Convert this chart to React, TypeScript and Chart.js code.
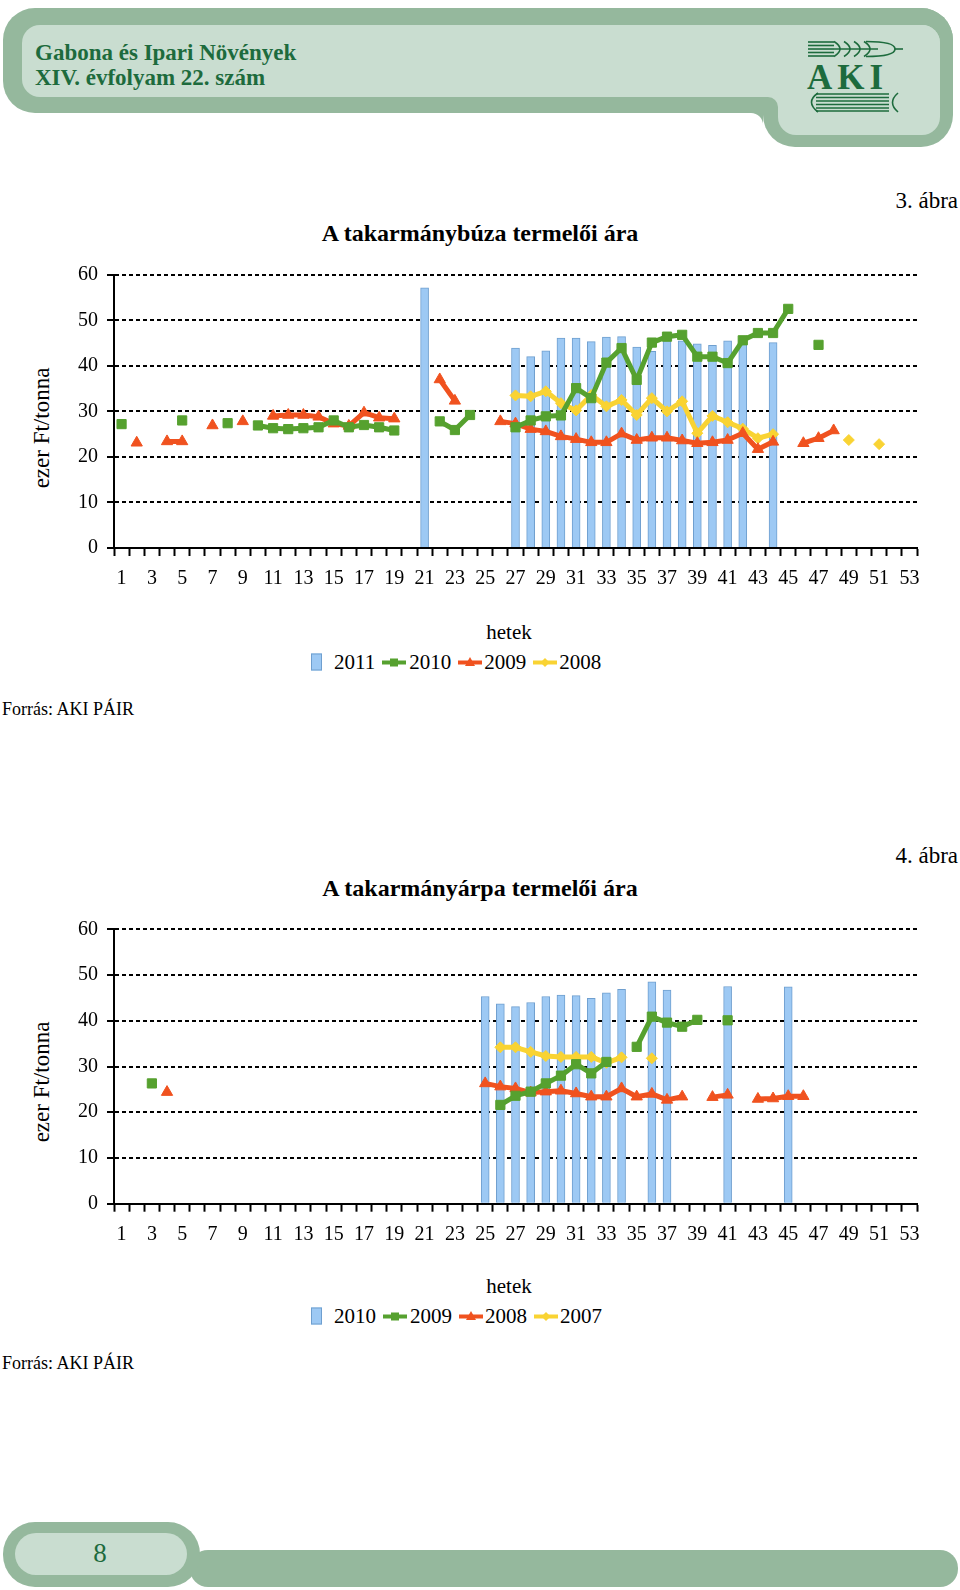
import React, { useEffect, useRef } from 'react';
import { Chart, registerables } from 'chart.js';

Chart.register(...registerables);

// ---------- data ----------
const weekLabels = [
  '1', '2', '3', '4', '5', '6', '7', '8', '9', '10',
  '11', '12', '13', '14', '15', '16', '17', '18', '19', '20',
  '21', '22', '23', '24', '25', '26', '27', '28', '29', '30',
  '31', '32', '33', '34', '35', '36', '37', '38', '39', '40',
  '41', '42', '43', '44', '45', '46', '47', '48', '49', '50',
  '51', '52', '53',
];

// Chart 3: feed wheat (takarmánybúza), thousand Ft / tonne, weeks 1..53
const wheat2011 = [
  null, null, null, null, null, null, null, null, null, null,
  null, null, null, null, null, null, null, null, null, null,
  57.1, null, null, null, null, null, 43.9, 42.0, 43.3, 46.1,
  46.1, 45.3, 46.3, 46.4, 44.1, 43.2, 45.5, 45.5, 44.8, 44.5,
  45.5, 46.0, null, 45.1, null, null, null, null, null, null,
  null, null, null,
];
const wheat2010 = [
  27.2, null, null, null, 28.0, null, null, 27.4, null, 26.9,
  26.3, 26.1, 26.3, 26.5, 28.0, 26.5, 27.0, 26.5, 25.8, null,
  null, 27.8, 25.9, 29.2, null, null, 26.5, 28.0, 28.9, 29.1,
  35.1, 32.9, 40.7, 43.9, 36.9, 45.1, 46.4, 46.8, 42.0, 42.0,
  40.6, 45.6, 47.2, 47.2, 52.5, null, 44.6, null, null, null,
  null, null, null,
];
const wheat2009 = [
  null, 23.1, null, 23.4, 23.4, null, 26.9, null, 27.8, null,
  29.0, 29.2, 29.2, 28.8, 27.3, 26.8, 29.7, 28.6, 28.4, null,
  null, 37.0, 32.3, null, null, 27.8, 27.3, 26.1, 25.6, 24.5,
  23.9, 23.2, 23.2, 25.1, 23.7, 24.2, 24.2, 23.6, 23.0, 23.2,
  23.7, 25.2, 21.7, 23.3, null, 23.0, 24.1, 25.8, null, null,
  null, null, null,
];
const wheat2008 = [
  null, null, null, null, null, null, null, null, null, null,
  null, null, null, null, null, null, null, null, null, null,
  null, null, null, null, null, null, 33.5, 33.3, 34.4, 31.8,
  30.2, 33.6, 31.1, 32.5, 29.2, 32.9, 30.0, 32.2, 25.2, 29.0,
  27.6, 26.2, 24.1, 25.0, null, null, null, null, 23.7, null,
  22.8, null, null,
];

// Chart 4: feed barley (takarmányárpa), thousand Ft / tonne, weeks 1..53
const barley2010 = [
  null, null, null, null, null, null, null, null, null, null,
  null, null, null, null, null, null, null, null, null, null,
  null, null, null, null, 45.3, 43.7, 43.1, 44.0, 45.3, 45.6,
  45.5, 44.9, 46.1, 46.9, null, 48.5, 46.7, null, null, null,
  47.5, null, null, null, 47.4, null, null, null, null, null,
  null, null, null,
];
const barley2009 = [
  null, null, 26.3, null, null, null, null, null, null, null,
  null, null, null, null, null, null, null, null, null, null,
  null, null, null, null, null, 21.6, 23.6, 24.5, 26.3, 28.0,
  30.5, 28.5, 31.0, null, 34.3, 40.9, 39.6, 38.7, 40.2, null,
  40.1, null, null, null, null, null, null, null, null, null,
  null, null, null,
];
const barley2008 = [
  null, null, null, 24.4, null, null, null, null, null, null,
  null, null, null, null, null, null, null, null, null, null,
  null, null, null, null, 26.3, 25.6, 25.2, 24.3, 24.5, 24.7,
  24.1, 23.4, 23.4, 25.2, 23.4, 24.0, 22.7, 23.4, null, 23.3,
  23.8, null, 22.9, 23.0, 23.5, 23.5, null, null, null, null,
  null, null, null,
];
const barley2007 = [
  null, null, null, null, null, null, null, null, null, null,
  null, null, null, null, null, null, null, null, null, null,
  null, null, null, null, null, 34.2, 34.2, 33.2, 32.3, 32.1,
  32.1, 32.1, 30.8, 32.0, null, 31.8, null, null, null, null,
  null, null, null, null, null, null, null, null, null, null,
  null, null, null,
];

const wheatYears = ['2011', '2010', '2009', '2008'];
const barleyYears = ['2010', '2009', '2008', '2007'];
const yTicks = { min: 0, max: 60, step: 10 };

// ---------- styles ----------
const BLUE = '#9dc9f4';
const BLUE_EDGE = '#6f9fcf';
const GREEN = '#56a12f';
const RED = '#f0521f';
const YELLOW = '#f9d333';
const INK = '#1d6b3d';
const OUTER = '#95b89d';
const INNER = '#c9ddd0';
const FONT = "'Liberation Serif', 'Times New Roman', serif";
const CANVAS_H = 345;

Chart.defaults.font.family = FONT;
Chart.defaults.color = '#000';

type Series = (number | null)[];

function WeeklyChart(props: {
  top: number; plotTop: number; plotBottom: number;
  bars: Series; green: Series; red: Series; yellow: Series; names: string[];
}) {
  const { top, plotTop, plotBottom, bars, green, red, yellow, names } = props;
  const ref = useRef<HTMLCanvasElement>(null);
  useEffect(() => {
    if (!ref.current) return;
    const lineDs = (label: string, data: Series, color: string, pointStyle: any, radius: number, order: number) => ({
      type: 'line' as const,
      label,
      data,
      borderColor: color,
      backgroundColor: color,
      pointBackgroundColor: color,
      pointBorderColor: color,
      borderWidth: 5,
      pointStyle,
      pointRadius: radius,
      pointHoverRadius: radius,
      pointBorderWidth: 1,
      spanGaps: false,
      tension: 0,
      borderJoinStyle: 'round' as const,
      order,
    });
    const chart = new Chart(ref.current, {
      type: 'bar',
      data: {
        labels: weekLabels,
        datasets: [
          {
            type: 'bar', label: names[0], data: bars, backgroundColor: BLUE, borderColor: BLUE_EDGE,
            borderWidth: 1, barThickness: 8, order: 4,
          } as any,
          lineDs(names[1], green, GREEN, 'rect', 6.5, 1),
          lineDs(names[2], red, RED, 'triangle', 6.5, 2),
          lineDs(names[3], yellow, YELLOW, 'rectRot', 5.5, 3),
        ],
      },
      options: {
        animation: false,
        responsive: false,
        maintainAspectRatio: false,
        layout: { padding: { top: plotTop - top, right: 43, left: 0, bottom: 0 } },
        plugins: { legend: { display: false }, tooltip: { enabled: false }, title: { display: false } },
        events: [],
        scales: {
          x: {
            offset: true,
            grid: {
              offset: true, drawOnChartArea: false, drawTicks: true, tickLength: 8,
              tickWidth: 2, tickColor: '#000',
            },
            border: { display: true, color: '#000', width: 2 },
            ticks: {
              autoSkip: false, maxRotation: 0, minRotation: 0, padding: 11, color: '#000',
              font: { family: FONT, size: 20 },
              callback: (_v: any, i: number) => (i % 2 === 0 ? weekLabels[i] : ''),
            },
            afterFit: (s: any) => { s.height = CANVAS_H - (plotBottom - top); },
          },
          y: {
            min: yTicks.min, max: yTicks.max,
            ticks: { stepSize: yTicks.step, padding: 9, color: '#000', font: { family: FONT, size: 20 } },
            grid: { color: '#000', lineWidth: 2, tickLength: 7, tickWidth: 2, tickColor: '#000', tickBorderDash: [] },
            border: { display: true, color: '#000', width: 2, dash: [4, 3] },
            afterFit: (s: any) => { s.width = 114; },
          },
        },
      } as any,
    });
    return () => chart.destroy();
  }, []);
  return (
    <canvas
      ref={ref}
      width={960}
      height={CANVAS_H}
      style={{ position: 'absolute', left: 0, top, width: 960, height: CANVAS_H }}
    />
  );
}

function T(props: { x: number; y: number; size?: number; bold?: boolean; anchor?: 'start' | 'middle' | 'end'; children: React.ReactNode }) {
  const { x, y, size = 20, bold = false, anchor = 'middle', children } = props;
  const tx = anchor === 'middle' ? '-50%' : anchor === 'end' ? '-100%' : '0';
  return (
    <div style={{
      position: 'absolute', left: x, top: y, transform: `translate(${tx}, -50%)`,
      fontFamily: FONT, fontSize: size, fontWeight: bold ? 'bold' : 'normal',
      whiteSpace: 'nowrap', lineHeight: 1, color: '#000',
    }}>{children}</div>
  );
}

function VText(props: { x: number; y: number; children: React.ReactNode }) {
  return (
    <div style={{
      position: 'absolute', left: props.x, top: props.y,
      transform: 'translate(-50%, -50%) rotate(-90deg)',
      fontFamily: FONT, fontSize: 23, whiteSpace: 'nowrap', lineHeight: 1, color: '#000',
    }}>{props.children}</div>
  );
}

function LineSym(props: { color: string; shape: 'rect' | 'tri' | 'dia' }) {
  const { color, shape } = props;
  return (
    <svg width={24} height={14} style={{ display: 'block' }}>
      <line x1={0} y1={7} x2={24} y2={7} stroke={color} strokeWidth={4} />
      {shape === 'rect' && <rect x={8} y={3} width={8} height={8} fill={color} />}
      {shape === 'tri' && <polygon points="12,1.5 17,10.5 7,10.5" fill={color} />}
      {shape === 'dia' && <polygon points="12,2.5 16.5,7 12,11.5 7.5,7" fill={color} />}
    </svg>
  );
}

function Legend(props: { y: number; names: string[] }) {
  const { y, names } = props;
  const txt: React.CSSProperties = { fontFamily: FONT, fontSize: 21, lineHeight: 1 };
  return (
    <div style={{
      position: 'absolute', left: 311, top: y, transform: 'translateY(-50%)',
      display: 'flex', alignItems: 'center', whiteSpace: 'nowrap',
    }}>
      <span style={{ display: 'block', width: 9, height: 15, background: BLUE, border: `1px solid ${BLUE_EDGE}`, marginRight: 12 }} />
      <span style={txt}>{names[0]}</span>
      <span style={{ marginLeft: 7, marginRight: 3 }}><LineSym color={GREEN} shape="rect" /></span>
      <span style={txt}>{names[1]}</span>
      <span style={{ marginLeft: 7, marginRight: 2 }}><LineSym color={RED} shape="tri" /></span>
      <span style={txt}>{names[2]}</span>
      <span style={{ marginLeft: 7, marginRight: 2 }}><LineSym color={YELLOW} shape="dia" /></span>
      <span style={txt}>{names[3]}</span>
    </div>
  );
}

function Header() {
  return (
    <svg width={960} height={150} style={{ position: 'absolute', left: 0, top: 0 }}>
      <rect x={3} y={8} width={950} height={105} rx={32} fill={OUTER} />
      <rect x={763} y={8} width={190} height={139} rx={32} fill={OUTER} />
      <rect x={751} y={113} width={12} height={12} fill={OUTER} />
      <path d="M 751 125 L 751 113 A 12 12 0 0 1 763 125 Z" fill="#fff" />
      <rect x={22} y={25} width={918} height={72} rx={18} fill={INNER} />
      <rect x={778} y={25} width={162} height={110} rx={18} fill={INNER} />
      <rect x={768} y={97} width={10} height={10} fill={INNER} />
      <path d="M 768 107 L 768 97 A 10 10 0 0 1 778 107 Z" fill={OUTER} />
      <text x={35} y={60} fontFamily={FONT} fontWeight="bold" fontSize={23} fill={INK}>Gabona és Ipari Növények</text>
      <text x={35} y={85} fontFamily={FONT} fontWeight="bold" fontSize={23} fill={INK}>XIV. évfolyam 22. szám</text>
      <g stroke={INK} strokeWidth={1.6} fill="none">
        {[42, 45.5, 49, 52.5, 56].map((yy) => <line key={yy} x1={808} y1={yy} x2={834} y2={yy} />)}
        {[834, 844, 854, 864].map((xx) => <path key={xx} d={`M ${xx} 41.5 Q ${xx + 12} 49 ${xx} 56.5`} />)}
        <line x1={834} y1={49} x2={878} y2={49} />
        <path d="M 866 41.5 Q 895 41.5 895 49 Q 895 56.5 866 56.5" />
        <line x1={895} y1={49} x2={903} y2={49} />
        {[94, 97.5, 101, 104.5, 108, 111].map((yy) => <line key={yy} x1={816} y1={yy} x2={889} y2={yy} />)}
        <path d="M 818 93 Q 805 102 818 112" />
        <path d="M 898 93 Q 887 102.5 898 112" />
      </g>
      <text x={807} y={89} fontFamily={FONT} fontWeight="bold" fontSize={35} fill={INK} letterSpacing={5}>AKI</text>
    </svg>
  );
}

function Footer() {
  return (
    <svg width={960} height={80} style={{ position: 'absolute', left: 0, top: 1510 }}>
      <rect x={190} y={40} width={768} height={37} rx={18} fill={OUTER} />
      <rect x={3} y={12} width={197} height={65} rx={32} fill={OUTER} />
      <rect x={15} y={23} width={172} height={42} rx={21} fill={INNER} />
      <text x={100} y={52} textAnchor="middle" fontFamily={FONT} fontSize={27} fill={INK}>8</text>
    </svg>
  );
}

export default function App() {
  return (
    <div style={{ position: 'absolute', left: 0, top: 0, width: 960, height: 1590, background: '#fff', overflow: 'hidden' }}>
      <Header />

      <T x={958} y={200} anchor="end" size={23}>3. ábra</T>
      <T x={480} y={233} bold size={24}>A takarmánybúza termelői ára</T>
      <VText x={40.5} y={428}>ezer Ft/tonna</VText>
      <WeeklyChart top={250} plotTop={274.7} plotBottom={548} bars={wheat2011} green={wheat2010} red={wheat2009} yellow={wheat2008} names={wheatYears} />
      <T x={509} y={632} size={21}>hetek</T>
      <Legend y={662} names={wheatYears} />
      <T x={2} y={709} anchor="start" size={18}>Forrás: AKI PÁIR</T>

      <T x={958} y={855} anchor="end" size={23}>4. ábra</T>
      <T x={480} y={888} bold size={24}>A takarmányárpa termelői ára</T>
      <VText x={40.5} y={1082}>ezer Ft/tonna</VText>
      <WeeklyChart top={905} plotTop={929.3} plotBottom={1203.7} bars={barley2010} green={barley2009} red={barley2008} yellow={barley2007} names={barleyYears} />
      <T x={509} y={1286} size={21}>hetek</T>
      <Legend y={1316} names={barleyYears} />
      <T x={2} y={1363} anchor="start" size={18}>Forrás: AKI PÁIR</T>

      <Footer />
    </div>
  );
}
